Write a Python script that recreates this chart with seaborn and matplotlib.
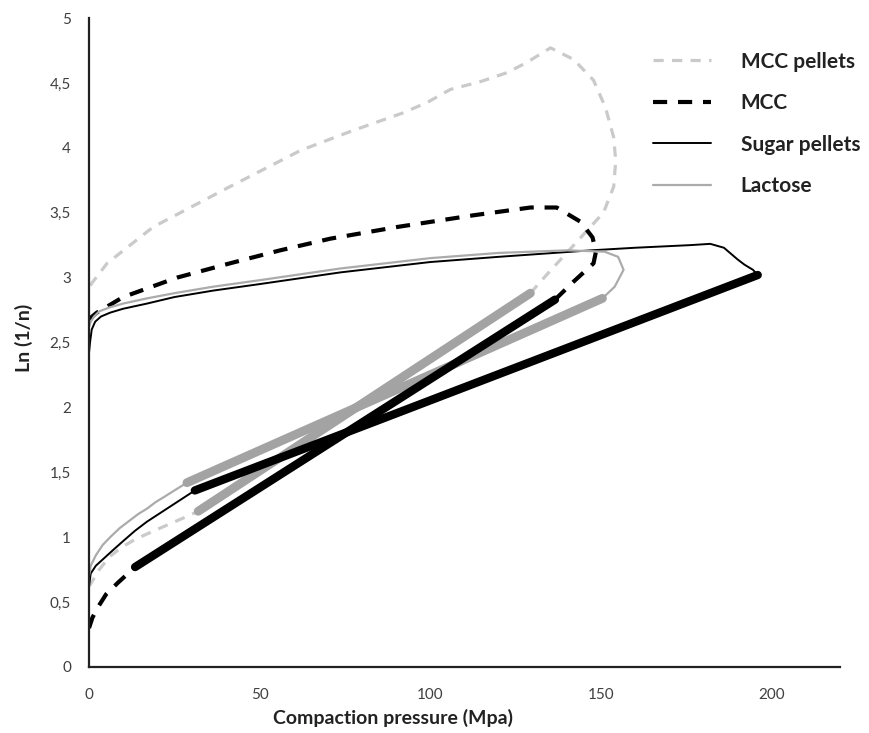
import seaborn as sns
import matplotlib.pyplot as plt
import numpy as np

sns.set_theme(style="white")
plt.rcParams['font.family'] = ['Lato', 'DejaVu Sans']

# MCC pellets: compression (dashed), linear region (thick), decompression (dashed)
mccp_comp_x = [0, 3, 6, 10, 14, 21.7, 28.7, 32]
mccp_comp_y = [0.62, 0.75, 0.85, 0.93, 0.99, 1.08, 1.16, 1.2]
mccp_lin_x = [32, 129.3]
mccp_lin_y = [1.2, 2.88]
mccp_dec_x = [129.3, 134, 142, 150.7, 153.7, 154.3, 153.7, 151.3, 147.8, 142, 135.2,
              128.4, 122.6, 114.7, 105.9, 99.1, 92.1, 77, 62, 40.5, 18.8, 5.3, 0.9, 0]
mccp_dec_y = [2.88, 3.02, 3.25, 3.5, 3.7, 3.9, 4.08, 4.31, 4.52, 4.68, 4.77,
              4.66, 4.58, 4.51, 4.45, 4.35, 4.27, 4.13, 3.98, 3.69, 3.39, 3.11, 2.96, 2.92]

# MCC
mcc_comp_x = [0, 1, 2.6, 5, 8.5, 13.5]
mcc_comp_y = [0.3, 0.38, 0.46, 0.56, 0.65, 0.77]
mcc_lin_x = [13.5, 136.5]
mcc_lin_y = [0.77, 2.83]
mcc_dec_x = [136.5, 142, 147.8, 148.5, 147.5, 144, 137, 129.3, 112.6, 90.3, 70.7,
             56, 41.3, 25.8, 10, 2.3, 0]
mcc_dec_y = [2.83, 2.97, 3.11, 3.2, 3.31, 3.43, 3.54, 3.54, 3.48, 3.39, 3.30,
             3.21, 3.11, 3.0, 2.85, 2.73, 2.68]

# Sugar pellets
sug_comp_x = [0, 0.5, 2, 4.5, 7, 10, 13.5, 17, 20.5, 24, 27.5, 31]
sug_comp_y = [0.62, 0.72, 0.78, 0.84, 0.9, 0.97, 1.05, 1.12, 1.18, 1.24, 1.3, 1.36]
sug_lin_x = [31, 195.9]
sug_lin_y = [1.36, 3.02]
sug_dec_x = [195.9, 194.5, 192, 190, 186, 182, 176, 160, 147, 120, 100, 73.6,
             50, 36.4, 25, 17, 10, 6.2, 3.5, 1.8, 0.8, 0.3, 0]
sug_dec_y = [3.02, 3.06, 3.1, 3.14, 3.23, 3.26, 3.25, 3.23, 3.21, 3.16, 3.12, 3.04,
             2.95, 2.9, 2.85, 2.8, 2.76, 2.73, 2.70, 2.66, 2.6, 2.5, 2.42]

# Lactose
lac_comp_x = [0, 0.5, 2, 4, 6.2, 9, 12, 14.5, 17, 19.5, 22, 25, 28.7]
lac_comp_y = [0.7, 0.78, 0.86, 0.94, 1.0, 1.07, 1.13, 1.18, 1.22, 1.27, 1.31, 1.36, 1.42]
lac_lin_x = [28.7, 150.4]
lac_lin_y = [1.42, 2.84]
lac_dec_x = [150.4, 154, 156.6, 155, 151, 140, 120, 100, 73.6, 50, 36.4, 25, 17,
             10, 6, 3, 1.5, 0.5, 0]
lac_dec_y = [2.84, 2.93, 3.06, 3.16, 3.2, 3.21, 3.19, 3.15, 3.07, 2.98, 2.93, 2.88,
             2.84, 2.8, 2.77, 2.74, 2.7, 2.66, 2.62]

xticks = [0, 50, 100, 150, 200]
yticks = [0, 0.5, 1, 1.5, 2, 2.5, 3, 3.5, 4, 4.5, 5]
ytick_labels = ["0", "0,5", "1", "1,5", "2", "2,5", "3", "3,5", "4", "4,5", "5"]

fig = plt.figure(figsize=(8.69, 7.33), dpi=100)
ax = fig.add_axes([89 / 869, 66 / 733, 751 / 869, 649 / 733])

light = "#cacaca"
mid = "#a3a3a3"
thin_gray = "#ababab"

def draw(x, y, **kw):
    sns.lineplot(x=x, y=y, ax=ax, sort=False, estimator=None, **kw)

# MCC pellets
draw(mccp_comp_x, mccp_comp_y, color=light, lw=2.3, dashes=(3.2, 2.6), label="MCC pellets")
draw(mccp_dec_x, mccp_dec_y, color=light, lw=2.3, dashes=(3.2, 2.6))
# MCC
draw(mcc_comp_x, mcc_comp_y, color="black", lw=3, dashes=(3.4, 2.6), label="MCC")
draw(mcc_dec_x, mcc_dec_y, color="black", lw=3, dashes=(3.4, 2.6))
# Sugar pellets
draw(sug_comp_x, sug_comp_y, color="black", lw=1.4, label="Sugar pellets")
draw(sug_dec_x, sug_dec_y, color="black", lw=1.4)
# Lactose
draw(lac_comp_x, lac_comp_y, color=thin_gray, lw=1.6, label="Lactose")
draw(lac_dec_x, lac_dec_y, color=thin_gray, lw=1.6)

# linear (Heckel) regions
draw(mccp_lin_x, mccp_lin_y, color=mid, lw=6.4, solid_capstyle="round")
draw(lac_lin_x, lac_lin_y, color=mid, lw=6.4, solid_capstyle="round")
draw(mcc_lin_x, mcc_lin_y, color="black", lw=6.0, solid_capstyle="round")
draw(sug_lin_x, sug_lin_y, color="black", lw=6.0, solid_capstyle="round")

ax.set_xlim(0, 220)
ax.set_ylim(0, 5)
ax.set_xticks(xticks)
ax.set_xticklabels([str(t) for t in xticks])
ax.set_yticks(yticks)
ax.set_yticklabels(ytick_labels)
ax.tick_params(axis="both", length=0, labelsize=11, labelcolor="#404040")
ax.tick_params(axis="x", pad=15)
ax.tick_params(axis="y", pad=13)

for side in ["top", "right"]:
    ax.spines[side].set_visible(False)
for side in ["left", "bottom"]:
    ax.spines[side].set_color("#222222")
    ax.spines[side].set_linewidth(1.6)

ax.set_xlabel("Compaction pressure (Mpa)", fontsize=14, fontweight="bold", color="#222222")
ax.set_ylabel("Ln (1/n)", fontsize=14, fontweight="bold", color="#222222")
ax.xaxis.set_label_coords(0.405, -0.064)
ax.yaxis.set_label_coords(-0.075, 0.507)

leg = ax.legend(loc="upper left", bbox_to_anchor=(0.751, 0.948), frameon=False,
                borderaxespad=0, borderpad=0, handlelength=2.8, handletextpad=1.4,
                labelspacing=1.03, prop={"family": "Lato", "weight": "bold", "size": 15})
for t in leg.get_texts():
    t.set_color("#222222")

fig.savefig("out.png", dpi=100)
